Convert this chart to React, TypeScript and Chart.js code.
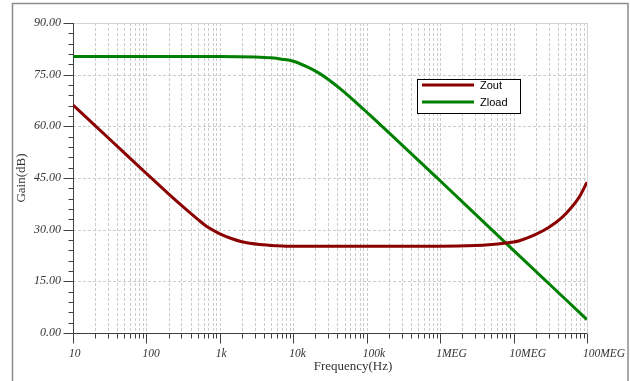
import React, { useEffect, useRef } from "react";
import { Chart, registerables } from "chart.js";

Chart.register(...registerables);

// ---- data ----
const decadeValues = [10, 100, 1e3, 1e4, 1e5, 1e6, 1e7, 1e8];
const decadeLabels = ["10", "100", "1k", "10k", "100k", "1MEG", "10MEG", "100MEG"];
const yTickValues = [0, 15, 30, 45, 60, 75, 90];

const zoutFreq = [10, 20, 50, 100, 200, 350, 500, 700, 1000, 1500, 2000, 3500, 6000, 10000, 1e5, 1e6, 3e6, 5e6, 7e6, 1.2e7, 2e7, 3e7, 4.5e7, 6e7, 8e7, 1e8];
const zoutGain = [66.2, 60.2, 52.3, 46.3, 40.4, 35.8, 33.0, 30.6, 28.8, 27.3, 26.5, 25.7, 25.35, 25.2, 25.2, 25.2, 25.4, 25.7, 26.0, 26.8, 28.6, 30.6, 33.4, 36.2, 39.8, 43.8];

const zloadFreq = [10, 1000, 3000, 5000, 7000, 10000, 15000, 23000, 30000, 43000, 70000, 1.1e5, 2e5, 1e6, 1e7, 1e8];
const zloadGain = [80.3, 80.3, 80.15, 79.9, 79.5, 78.9, 77.4, 75.3, 73.6, 71.0, 67.1, 63.3, 58.2, 44.2, 24.0, 3.9];

const seriesNames = ["Zout", "Zload"];
const seriesColors = ["#8b0000", "#008000"];

const LABEL_COLOR = "#333333";

const decorPlugin = {
  id: "decor",
  beforeDatasetsDraw(chart: any) {
    const { ctx, chartArea, scales } = chart;
    const { left, right, top, bottom } = chartArea;
    const x = scales.x;
    const y = scales.y;
    ctx.save();
    // outer frame
    ctx.strokeStyle = "#8c8c8c";
    ctx.lineWidth = 1.5;
    ctx.beginPath();
    ctx.moveTo(12.5, 381);
    ctx.lineTo(12.5, 3.5);
    ctx.lineTo(628, 3.5);
    ctx.lineTo(628, 381);
    ctx.stroke();

    // dashed grid
    ctx.lineWidth = 1;
    ctx.strokeStyle = "#cccccc";
    ctx.setLineDash([3, 2]);
    for (const t of x.ticks) {
      const px = Math.round(x.getPixelForValue(t.value)) + 0.5;
      ctx.beginPath();
      ctx.moveTo(px, top);
      ctx.lineTo(px, bottom);
      ctx.stroke();
    }
    for (const v of yTickValues) {
      const py = Math.round(y.getPixelForValue(v)) + 0.5;
      ctx.beginPath();
      ctx.moveTo(left, py);
      ctx.lineTo(right, py);
      ctx.stroke();
    }
    ctx.setLineDash([]);

    // top & right border
    ctx.strokeStyle = "#d4d4d4";
    ctx.beginPath();
    ctx.moveTo(left, Math.round(top) + 0.5);
    ctx.lineTo(Math.round(right) + 0.5, Math.round(top) + 0.5);
    ctx.lineTo(Math.round(right) + 0.5, bottom);
    ctx.stroke();

    // axes
    ctx.strokeStyle = "#404040";
    const ax = Math.round(left) + 0.5;
    const ay = Math.round(bottom) + 0.5;
    ctx.beginPath();
    ctx.moveTo(ax, top);
    ctx.lineTo(ax, ay);
    ctx.lineTo(right, ay);
    ctx.stroke();

    // x tick marks
    ctx.beginPath();
    for (const t of x.ticks) {
      const px = Math.round(x.getPixelForValue(t.value)) + 0.5;
      const major = decadeValues.some((d) => Math.abs(d - t.value) / d < 1e-6);
      ctx.moveTo(px, ay);
      ctx.lineTo(px, ay + (major ? 10 : 5));
    }
    // y tick marks
    for (let v = 0; v <= 90; v += 3) {
      const py = Math.round(y.getPixelForValue(v)) + 0.5;
      const major = v % 15 === 0;
      ctx.moveTo(ax, py);
      ctx.lineTo(ax - (major ? 10 : 5), py);
    }
    ctx.stroke();
    ctx.restore();
  },
  afterDraw(chart: any) {
    const { ctx } = chart;
    ctx.save();
    // axis titles
    ctx.fillStyle = LABEL_COLOR;
    ctx.font = "13px 'Liberation Serif', serif";
    ctx.textAlign = "center";
    ctx.textBaseline = "middle";
    ctx.fillText("Frequency(Hz)", 353, 367);
    ctx.translate(22, 178);
    ctx.rotate(-Math.PI / 2);
    ctx.fillText("Gain(dB)", 0, 0);
    ctx.restore();

    // legend
    ctx.save();
    const bx = 417.5, by = 79.5, bw = 103, bh = 34;
    ctx.fillStyle = "#ffffff";
    ctx.fillRect(bx, by, bw, bh);
    ctx.strokeStyle = "#000000";
    ctx.lineWidth = 1;
    ctx.strokeRect(bx, by, bw, bh);
    ctx.font = "11px 'Liberation Sans', Arial, sans-serif";
    ctx.textAlign = "left";
    ctx.textBaseline = "middle";
    chart.data.datasets.forEach((ds: any, i: number) => {
      const ly = 85 + i * 17;
      ctx.strokeStyle = ds.borderColor;
      ctx.lineWidth = 3;
      ctx.beginPath();
      ctx.moveTo(422, ly);
      ctx.lineTo(474, ly);
      ctx.stroke();
      ctx.fillStyle = "#000000";
      ctx.fillText(ds.label, 480, ly + 0.5);
    });
    ctx.restore();
  },
};

export default function App() {
  const ref = useRef<HTMLCanvasElement>(null);
  useEffect(() => {
    if (!ref.current) return;
    const datasets = [
      { label: seriesNames[0], data: zoutFreq.map((f, i) => ({ x: f, y: zoutGain[i] })), borderColor: seriesColors[0] },
      { label: seriesNames[1], data: zloadFreq.map((f, i) => ({ x: f, y: zloadGain[i] })), borderColor: seriesColors[1] },
    ].map((d) => ({
      ...d,
      borderWidth: 3,
      pointRadius: 0,
      fill: false,
      tension: 0.4,
      cubicInterpolationMode: "monotone" as const,
    }));
    const chart = new Chart(ref.current, {
      type: "line",
      data: { datasets },
      plugins: [decorPlugin],
      options: {
        animation: false,
        responsive: false,
        devicePixelRatio: 1,
        layout: { padding: { left: 0, top: 23, right: 43, bottom: 0 } },
        plugins: { legend: { display: false }, tooltip: { enabled: false } },
        scales: {
          x: {
            type: "logarithmic",
            min: 10,
            max: 1e8,
            grid: { display: false, drawTicks: false },
            border: { display: false },
            afterBuildTicks: (scale: any) => {
              const ticks: any[] = [];
              for (let d = 0; d < decadeValues.length; d++) {
                ticks.push({ value: decadeValues[d], major: true });
                if (d < decadeValues.length - 1) {
                  for (let m = 2; m <= 9; m++) ticks.push({ value: decadeValues[d] * m });
                }
              }
              scale.ticks = ticks;
            },
            afterFit: (scale: any) => {
              scale.height = 48;
              scale.paddingLeft = 0;
              scale.paddingRight = 0;
            },
            ticks: {
              autoSkip: false,
              maxRotation: 0,
              minRotation: 0,
              align: "start",
              labelOffset: -4,
              padding: 14,
              color: LABEL_COLOR,
              font: { family: "'Liberation Serif', serif", size: 11.5, style: "italic" },
              callback: (value: any) => {
                const idx = decadeValues.findIndex((d) => Math.abs(d - Number(value)) / d < 1e-6);
                return idx >= 0 ? decadeLabels[idx] : "";
              },
            },
          },
          y: {
            type: "linear",
            min: 0,
            max: 90,
            grid: { display: false, drawTicks: false },
            border: { display: false },
            afterBuildTicks: (scale: any) => {
              scale.ticks = yTickValues.map((v) => ({ value: v }));
            },
            afterFit: (scale: any) => {
              scale.width = 73;
              scale.paddingTop = 0;
              scale.paddingBottom = 0;
            },
            ticks: {
              padding: 12,
              color: LABEL_COLOR,
              font: { family: "'Liberation Serif', serif", size: 12, style: "italic" },
              callback: (value: any) => Number(value).toFixed(2),
            },
          },
        },
      },
    });
    return () => chart.destroy();
  }, []);
  return (
    <div style={{ position: "fixed", left: 0, top: 0, width: 630, height: 381, background: "#ffffff" }}>
      <canvas ref={ref} width={630} height={381} style={{ display: "block" }} />
    </div>
  );
}
